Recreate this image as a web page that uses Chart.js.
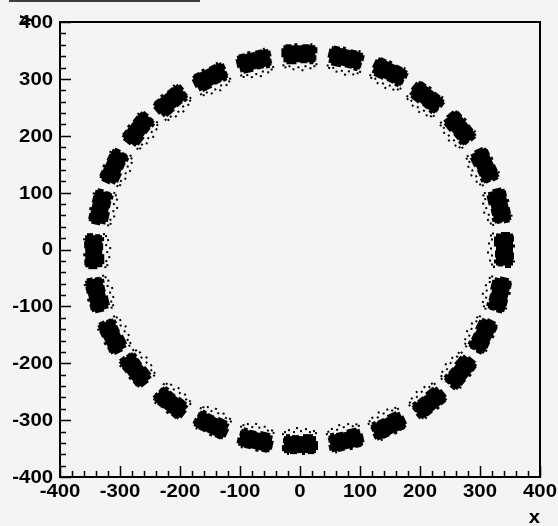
<!DOCTYPE html>
<html>
<head>
<meta charset="utf-8">
<script src="https://cdn.jsdelivr.net/npm/chart.js"></script>
<style>
  html, body { margin: 0; padding: 0; background: #f4f4f4; }
  #wrap { width: 558px; height: 526px; position: relative; }
</style>
</head>
<body>
<div id="wrap"><canvas id="scatter"></canvas></div>
<script>
// Cluster centres (x, y), going round counter-clockwise from the right
const clusterX = [335, 327, 303, 262, 208, 147, 75, -1, -75, -147, -212, -265, -305, -327,
                  -338, -333, -308, -270, -212, -145, -73, 0, 75, 145, 212, 263, 300, 327];
const clusterY = [0, 75, 145, 210, 263, 307, 331, 338, 326, 298, 257, 208, 143, 73,
                  -3, -78, -150, -208, -265, -303, -330, -337, -330, -305, -265, -212, -149, -78];

// Axis ticks
const majorTicks = [-400, -300, -200, -100, 0, 100, 200, 300, 400];
const minorStep = 20;
const axisMin = -400;
const axisMax = 400;

// Marker: a dense block of hits with some strays on the inner side
function makeBlob() {
    const c = document.createElement('canvas');
    c.width = 36;
    c.height = 28;
    const g = c.getContext('2d');
    g.fillStyle = '#000';
    g.fillRect(2, 2, 32, 17);
    g.fillRect(4, 1, 6, 1); g.fillRect(13, 0, 3, 2); g.fillRect(21, 1, 7, 1); g.fillRect(29, 0, 2, 2);
    g.fillRect(0, 5, 2, 9); g.fillRect(34, 4, 2, 6); g.fillRect(34, 12, 1, 5);
    g.fillRect(5, 19, 10, 2); g.fillRect(19, 19, 7, 1); g.fillRect(28, 19, 4, 2);
    const strays = [[3, 23], [7, 22], [11, 25], [16, 23], [20, 26], [23, 22], [28, 24], [32, 22], [1, 21], [34, 20]];
    strays.forEach(([dx, dy]) => g.fillRect(dx, dy, 2, 2));
    return c;
}

// text a little wider than the installed Helvetica clone, like the original
function wideText(ctx, text, x, y) {
    ctx.save();
    ctx.translate(x, y);
    ctx.scale(1.13, 1);
    ctx.fillText(text, 0, 0);
    ctx.restore();
}

// Frame, inward ticks, labels and titles in the ROOT look
const rootFrame = {
    id: 'rootFrame',
    afterDraw(chart) {
        const ctx = chart.ctx;
        const area = chart.chartArea;
        const xs = chart.scales.x;
        const ys = chart.scales.y;
        ctx.save();
        ctx.strokeStyle = '#000';
        ctx.fillStyle = '#000';

        // title box edge at the top
        ctx.lineWidth = 1.5;
        ctx.beginPath();
        ctx.moveTo(9, 1);
        ctx.lineTo(200, 1);
        ctx.stroke();

        ctx.lineWidth = 2;
        ctx.strokeRect(area.left, area.top, area.right - area.left, area.bottom - area.top);

        ctx.lineWidth = 1.5;
        ctx.beginPath();
        for (let v = axisMin; v <= axisMax; v += minorStep) {
            const major = v % 100 === 0;
            const len = major ? 11 : 6;
            const px = Math.round(xs.getPixelForValue(v)) + 0.5;
            ctx.moveTo(px, area.bottom);
            ctx.lineTo(px, area.bottom - len);
            const py = Math.round(ys.getPixelForValue(v)) + 0.5;
            ctx.moveTo(area.left, py);
            ctx.lineTo(area.left + len, py);
        }
        ctx.stroke();

        ctx.font = 'bold 18px "Liberation Sans", Arial, sans-serif';
        ctx.textBaseline = 'middle';
        ctx.textAlign = 'right';
        majorTicks.forEach(v => wideText(ctx, String(v), area.left - 7, ys.getPixelForValue(v) + 1));
        ctx.textAlign = 'center';
        ctx.textBaseline = 'top';
        majorTicks.forEach(v => wideText(ctx, String(v), xs.getPixelForValue(v), area.bottom + 6));

        // axis titles
        ctx.textAlign = 'right';
        ctx.textBaseline = 'alphabetic';
        wideText(ctx, 'x', area.right, area.bottom + 46);
        ctx.translate(25, 19);
        ctx.rotate(-Math.PI / 2);
        ctx.textAlign = 'right';
        ctx.textBaseline = 'middle';
        ctx.fillText('y', 4, 0);
        ctx.restore();
    }
};

const blob = makeBlob();

new Chart(document.getElementById('scatter'), {
    type: 'scatter',
    data: {
        datasets: [{
            data: clusterX.map((x, i) => ({ x: x, y: clusterY[i] })),
            pointStyle: blob,
            pointRadius: 12,
            // turn each block so its long side runs along the ring
            rotation: (c) => {
                const p = c.raw;
                return p ? 90 - Math.atan2(p.y, p.x) * 180 / Math.PI : 0;
            }
        }]
    },
    options: {
        responsive: true,
        maintainAspectRatio: false,
        animation: false,
        layout: { padding: { left: 60, right: 18, top: 22, bottom: 49 } },
        scales: {
            x: { type: 'linear', min: axisMin, max: axisMax, display: false },
            y: { type: 'linear', min: axisMin, max: axisMax, display: false }
        },
        plugins: {
            legend: { display: false },
            tooltip: { enabled: false }
        }
    },
    plugins: [rootFrame]
});
</script>
</body>
</html>
